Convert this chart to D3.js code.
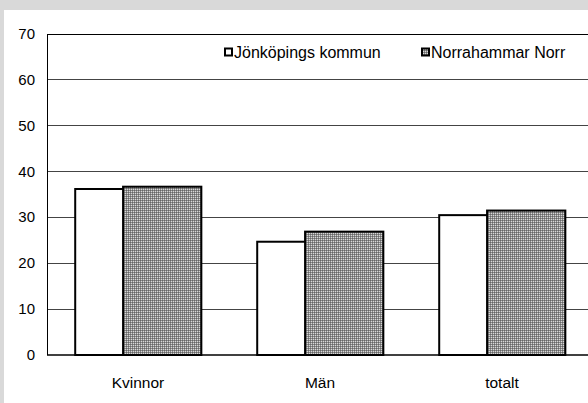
<!DOCTYPE html>
<html><head><meta charset="utf-8">
<script src="https://cdn.jsdelivr.net/npm/d3@7"></script>
<style>html,body{margin:0;padding:0;background:#d9d9d9;overflow:hidden}</style>
</head><body>
<svg id="c" width="588" height="403"></svg>
<script>
const categories = ["Kvinnor", "Män", "totalt"];
const seriesNames = ["Jönköpings kommun", "Norrahammar Norr"];
const jonkoping = [36.2, 24.7, 30.5];
const norrahammar = [36.7, 26.9, 31.5];
const yTicks = [0, 10, 20, 30, 40, 50, 60, 70];

(function(){
const svg = d3.select("#c");
const font = "Liberation Sans, Arial, sans-serif";

const defs = svg.append("defs");
const pat = defs.append("pattern").attr("id","dots").attr("patternUnits","userSpaceOnUse")
  .attr("width",2).attr("height",2);
pat.append("rect").attr("width",2).attr("height",2).attr("fill","#8a8a8a");
pat.append("rect").attr("x",1).attr("y",1).attr("width",1).attr("height",1).attr("fill","#d8d8d8");
pat.append("rect").attr("x",0).attr("y",0).attr("width",1).attr("height",1).attr("fill","#666");

svg.append("rect").attr("x",4).attr("y",10).attr("width",600).attr("height",400).attr("fill","#fff");

const pL = 47, pR = 593, pT = 34, pB = 355;
const x = d3.scaleBand().domain(categories).range([pL, pR]).paddingInner(0).paddingOuter(0);
const y = d3.scaleLinear().domain([0, 70]).range([pB, pT]);

svg.append("g").selectAll("line").data(yTicks.filter(t=>t>0)).join("line")
  .attr("x1", pL).attr("x2", 588).attr("y1", d=>y(d)).attr("y2", d=>y(d))
  .attr("stroke", d=> d===70 ? "#000" : "#444").attr("stroke-width",1)
  .attr("shape-rendering","crispEdges");

svg.append("g").selectAll("text").data(yTicks).join("text")
  .attr("x", 35).attr("y", d=>y(d)+5).attr("text-anchor","end")
  .attr("font-family", font).attr("font-size", 15).attr("fill","#000").text(d=>d);

const bw = x.bandwidth();
const barW = bw * 0.43;
const off1 = bw * 0.155, off2 = bw * 0.418;
const data = [jonkoping, norrahammar];
const fills = ["#fff", "url(#dots)"];
const offs = [off1, off2];
data.forEach((vals, si) => {
  svg.append("g").selectAll("rect").data(categories).join("rect")
    .attr("x", (c)=>x(c)+offs[si]).attr("width", barW)
    .attr("y", (c,i)=>y(vals[i])).attr("height",(c,i)=>y(0)-y(vals[i]))
    .attr("fill", fills[si]).attr("stroke","#000").attr("stroke-width",2);
});

svg.append("line").attr("x1",pL).attr("x2",pL).attr("y1",pT).attr("y2",pB)
  .attr("stroke","#000").attr("stroke-width",1).attr("shape-rendering","crispEdges");
svg.append("line").attr("x1",pL).attr("x2",588).attr("y1",pB).attr("y2",pB)
  .attr("stroke","#000").attr("stroke-width",1.5);

svg.append("g").selectAll("text").data(categories).join("text")
  .attr("x", c=>x(c)+bw/2).attr("y", 388).attr("text-anchor","middle")
  .attr("font-family", font).attr("font-size", 15.5).attr("fill","#000").text(c=>c);

const legX = [225, 422];
seriesNames.forEach((n,i)=>{
  svg.append("rect").attr("x",legX[i]).attr("y",48.5).attr("width",7).attr("height",7)
    .attr("fill",fills[i]).attr("stroke","#000").attr("stroke-width",2);
  svg.append("text").attr("x",legX[i]+9).attr("y",58).attr("font-family",font)
    .attr("font-size",16).attr("fill","#000").text(n);
});
})();
</script>
</body></html>
